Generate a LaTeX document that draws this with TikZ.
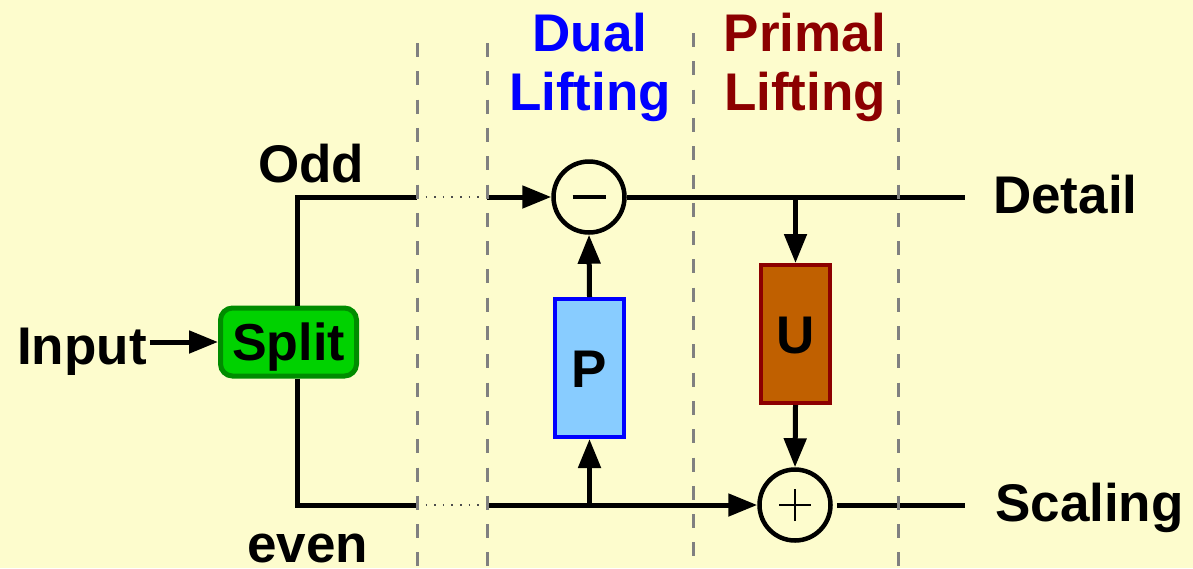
\documentclass[tikz,border=0pt]{standalone}
\usepackage{fontspec}
\setmainfont{Liberation Sans}
\usetikzlibrary{arrows.meta}
\definecolor{bgyellow}{RGB}{253,252,205}
\definecolor{splitfill}{RGB}{0,210,0}
\definecolor{splitdraw}{RGB}{0,140,0}
\definecolor{pfill}{RGB}{136,204,255}
\definecolor{pdraw}{RGB}{0,0,255}
\definecolor{ufill}{RGB}{192,96,0}
\definecolor{udraw}{RGB}{140,0,0}
\definecolor{dashgray}{RGB}{128,128,128}
\definecolor{dualblue}{RGB}{0,0,255}
\definecolor{primalred}{RGB}{140,0,0}
\tikzset{
  lbl/.style={font=\bfseries\fontsize{53}{59}\selectfont, inner sep=0pt, anchor=base west},
  title/.style={font=\bfseries\fontsize{53}{59}\selectfont, inner sep=0pt, anchor=base},
  wire/.style={line width=5pt, black},
  sig/.style={wire, -{Triangle[length=29pt,width=22pt]}},
  dotwire/.style={line width=1.6pt, black!70, dash pattern=on 1.6pt off 7pt},
  sepline/.style={line width=3pt, dashgray, dash pattern=on 14pt off 14.3pt},
  sumnode/.style={circle, draw=black, line width=4.5pt, fill=bgyellow, minimum size=71pt, inner sep=0pt},
  liftbox/.style={rectangle, line width=4pt, minimum width=69pt, minimum height=138pt, inner sep=0pt,
    text height=38pt, text depth=0pt, font=\bfseries\fontsize{53}{59}\selectfont},
}
\begin{document}
\begin{tikzpicture}[x=1pt,y=-1pt]
\fill[bgyellow] (0,0) rectangle (1193,568);
\useasboundingbox (0,0) rectangle (1193,568);

% titles
\node[title, text=dualblue] (dual1) at (590,51) {Dual};
\node[title, text=dualblue] (dual2) at (590,110) {Lifting};
\node[title, text=primalred] (primal1) at (805,51) {Primal};
\node[title, text=primalred] (primal2) at (805,110) {Lifting};

% labels
\node[lbl] (input) at (17,364) {Input};
\node[lbl] (odd) at (258,182) {Odd};
\node[lbl] (even) at (247,562) {even};
\node[lbl] (detail) at (993,213) {Detail};
\node[lbl] (scaling) at (995,521) {Scaling};

% blocks
\node[draw=splitdraw, fill=splitfill, line width=5pt, rounded corners=12pt,
      minimum width=136pt, minimum height=68pt, inner sep=0pt,
      text height=37pt, text depth=0pt,
      font=\bfseries\fontsize{52}{59}\selectfont] (split) at (288.5,342) {Split};
\node[sumnode] (minus) at (589,197) {};
\node[sumnode] (plus) at (795,505) {};
\node[liftbox, draw=pdraw, fill=pfill] (P) at (589.5,368) {P};
\node[liftbox, draw=udraw, fill=ufill] (U) at (795.5,334) {U};

% signs
\draw[line width=4pt] ([xshift=-16.5pt]minus.center) -- ([xshift=16.5pt]minus.center);
\draw[line width=2pt] ([xshift=-16pt]plus.center) -- ([xshift=16pt]plus.center);
\draw[line width=2pt] ([yshift=-16pt]plus.center) -- ([yshift=16pt]plus.center);

% coordinates
\coordinate (ocorner) at (297,197);
\coordinate (o1) at (417,197);
\coordinate (o2) at (487,197);
\coordinate (ecorner) at (297,505);
\coordinate (e1) at (417,505);
\coordinate (e2) at (487,505);
\coordinate (bp) at (589.5,505);
\coordinate (bu) at (795.5,197);
\coordinate (dout) at (965,197);
\coordinate (sout) at (965,505);

% connectors
\draw[sig] ([xshift=3pt]input.east |- split.west) -- (split.west);
\draw[wire] (split.north -| ocorner) -- (ocorner) -- (o1);
\draw[dotwire] (o1) -- (o2);
\draw[sig] (o2) -- (minus.west);
\draw[wire] (split.south -| ecorner) -- (ecorner) -- (e1);
\draw[dotwire] (e1) -- (e2);
\draw[sig] (e2) -- (plus.west);
\draw[sig] (bp) -- (P.south);
\draw[sig] (P.north) -- (minus.south);
\draw[wire] (minus.east) -- (dout);
\draw[sig] (bu) -- (U.north);
\draw[sig] (U.south) -- (plus.north);
\draw[wire, shorten <=4pt] (plus.east) -- (sout);

% separators
\draw[sepline] (417,43) -- (417,568);
\draw[sepline] (487,43) -- (487,568);
\draw[sepline] (693,33) -- (693,568);
\draw[sepline] (898,43) -- (898,568);
\end{tikzpicture}
\end{document}
